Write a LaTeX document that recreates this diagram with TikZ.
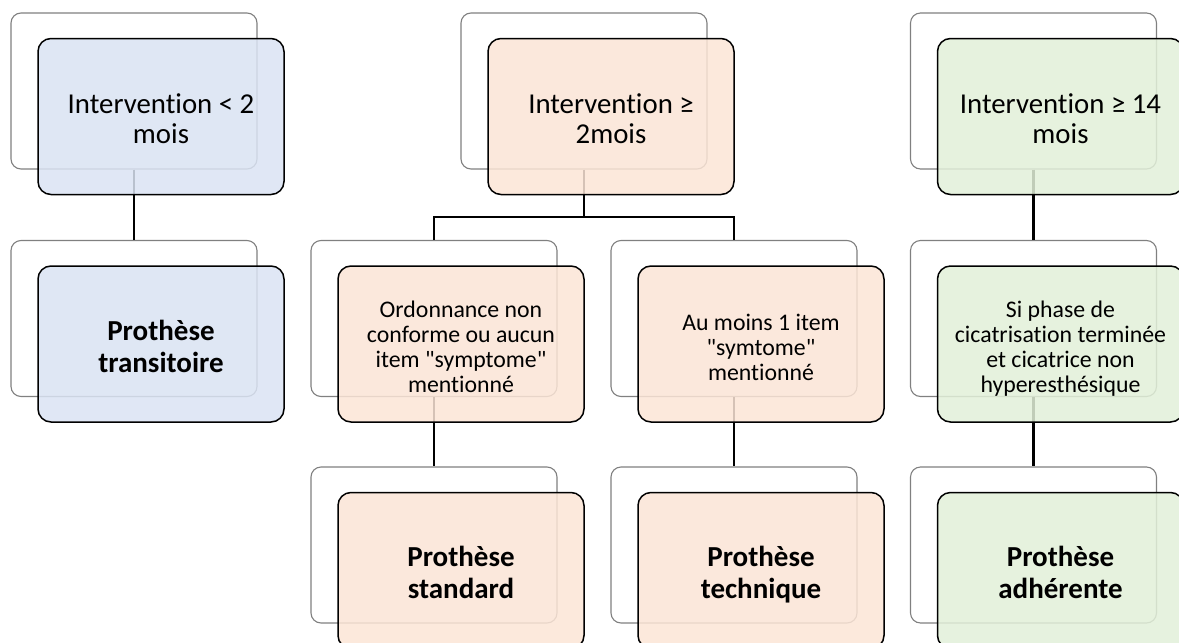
\documentclass[tikz,border=0pt]{standalone}
\usepackage{fontspec}
\setmainfont{Carlito}[Ligatures={TeXOff,CommonOff}]
\definecolor{cblue}{HTML}{DAE3F3}
\definecolor{cpeach}{HTML}{FBE5D6}
\definecolor{cgreen}{HTML}{E2F0D9}
\definecolor{cgrayline}{HTML}{808080}
\newcommand\ftitle{\fontsize{14.4}{15}\selectfont}
\newcommand\fsmall{\fontsize{11.9}{12.5}\selectfont}
\newcommand\fbig{\fontsize{14.5}{16}\selectfont\bfseries}
\newcommand\ts{\rule{0pt}{\dimexpr0.7\baselineskip+6pt\relax}}
\begin{document}
\begin{tikzpicture}[x=0.5pt,y=-0.5pt,
  backbox/.style={draw=cgrayline, line width=0.55pt, rounded corners=5pt, fill=white,
    minimum width=123pt, minimum height=78pt, inner sep=0pt},
  frontbox/.style={draw=black, line width=0.75pt, rounded corners=6.5pt, fill opacity=0.85,
    text opacity=1, minimum width=123pt, minimum height=78pt, inner sep=0pt,
    align=center},
  conn/.style={draw=black, line width=1.3pt},
  titletxt/.style={font=\ftitle},
  smalltxt/.style={font=\fsmall},
  bigtxt/.style={font=\fbig}]
\useasboundingbox (0,0) rectangle (1179,643);
% back boxes
\node[backbox] (b1) at (134,91) {};
\node[backbox] (b2) at (134,318.5) {};
\node[backbox] (b3) at (584,91) {};
\node[backbox] (b4) at (434,318.5) {};
\node[backbox] (b5) at (734,318.5) {};
\node[backbox] (b6) at (434,545) {};
\node[backbox] (b7) at (734,545) {};
\node[backbox] (b8) at (1033.5,91) {};
\node[backbox] (b9) at (1033.5,318.5) {};
\node[backbox] (b10) at (1033.5,545) {};
% connectors
\coordinate (j) at (584,217);
\draw[conn] (b1.south) -- (b2.north);
\draw[conn] (b3.south) -- (j);
\draw[conn] (b4.north) |- (j) -| (b5.north);
\draw[conn] (b4.south) -- (b6.north);
\draw[conn] (b5.south) -- (b7.north);
\draw[conn] (b8.south) -- (b9.north);
\draw[conn] (b9.south) -- (b10.north);
% front boxes
\node[frontbox, fill=cblue, titletxt] (f1) at (161,116.5) {\ts Intervention < 2\\mois\strut};
\node[frontbox, fill=cblue, bigtxt] (f2) at (161,344) {\ts Prothèse\\transitoire\strut};
\node[frontbox, fill=cpeach, titletxt] (f3) at (611,116.5) {\ts Intervention ≥\\2mois\strut};
\node[frontbox, fill=cpeach, smalltxt] (f4) at (461,344) {\ts Ordonnance non\\conforme ou aucun\\item "symptome"\\mentionné\strut};
\node[frontbox, fill=cpeach, smalltxt] (f5) at (761,344) {\ts Au moins 1 item\\"symtome"\\mentionné\strut};
\node[frontbox, fill=cpeach, bigtxt] (f6) at (461,570.5) {\ts Prothèse\\standard\strut};
\node[frontbox, fill=cpeach, bigtxt] (f7) at (761,570.5) {\ts Prothèse\\technique\strut};
\node[frontbox, fill=cgreen, titletxt] (f8) at (1060.5,116.5) {\ts Intervention ≥ 14\\mois\strut};
\node[frontbox, fill=cgreen, smalltxt] (f9) at (1060.5,344) {\ts Si phase de\\cicatrisation terminée\\et cicatrice non\\hyperesthésique\strut};
\node[frontbox, fill=cgreen, bigtxt] (f10) at (1060.5,570.5) {\ts Prothèse\\adhérente\strut};
\end{tikzpicture}
\end{document}
